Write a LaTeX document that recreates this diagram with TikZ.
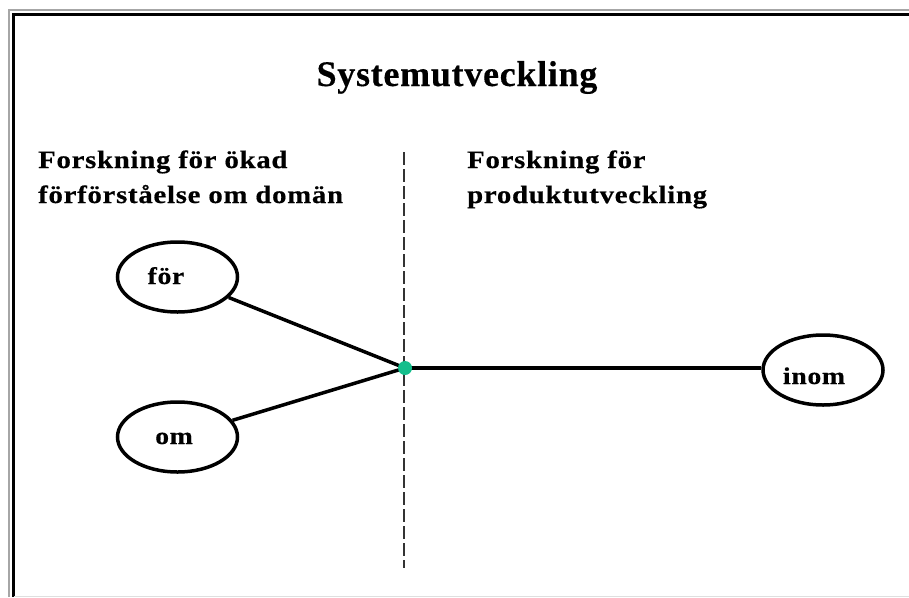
\documentclass[tikz,border=0pt]{standalone}
\usepackage{fontspec}
\setmainfont{Liberation Serif}
\newfontfamily\titlefont{Liberation Serif}[LetterSpace=2,FakeBold=0.3]
\newfontfamily\headfont{Liberation Serif}[FakeStretch=1.15,LetterSpace=3,FakeBold=0.5]
\usetikzlibrary{shapes.geometric}
\definecolor{dotgreen}{RGB}{20,190,140}
\begin{document}
\begin{tikzpicture}[x=1pt,y=-1pt,
  bubble/.style={draw, ellipse, line width=3.5pt, minimum width=120pt, minimum height=70pt, inner sep=0pt},
  link/.style={line width=3.5pt},
  bubbletext/.style={font=\headfont\bfseries\fontsize{24}{24}\selectfont, anchor=base, inner sep=0pt},
  headtext/.style={font=\headfont\bfseries\fontsize{25}{28}\selectfont, anchor=base west, inner sep=0pt},
  titletext/.style={font=\titlefont\bfseries\fontsize{36}{36}\selectfont, anchor=base, inner sep=0pt},
  divider/.style={line width=1.5pt, black!80, dash pattern=on 13pt off 4pt},
  hubdot/.style={circle, fill=dotgreen, minimum size=14pt, inner sep=0pt}]
\useasboundingbox (0,0) rectangle (909,597);
% frame
\draw[gray!70, line width=2pt] (9,597) -- (9,10) -- (909,10);
\draw[black, line width=3pt] (13.5,597) -- (13.5,14.5) -- (909,14.5);
\draw[gray!25, line width=1.5pt] (14,596.25) -- (909,596.25);
% texts
\node[titletext] (title) at (457,86) {Systemutveckling};
\node[headtext] (lh1) at (38,168) {Forskning för ökad};
\node[headtext] (lh2) at (38,203) {förförståelse om domän};
\node[headtext] (rh1) at (467,168) {Forskning för};
\node[headtext] (rh2) at (467,203) {produktutveckling};
% divider
\coordinate (dtop) at (404,152);
\coordinate (dbot) at (404,568);
\draw[divider] (dtop) -- (dbot);
% bubbles
\node[bubble] (for) at (177.5,277) {};
\node[bubble] (om) at (177.5,437) {};
\node[bubble] (inom) at (823,370) {};
\node[bubbletext] (fortext) at (166,284) {för};
\node[bubbletext] (omtext) at (174,444) {om};
\node[bubbletext] (inomtext) at (814,384) {inom};
% connectors
\coordinate (hubc) at (405,368);
\draw[link] (for) -- (hubc);
\draw[link] (om) -- (hubc);
\draw[link] (hubc) -- (hubc -| inom.west);
\node[hubdot] (hub) at (hubc) {};
\end{tikzpicture}
\end{document}
